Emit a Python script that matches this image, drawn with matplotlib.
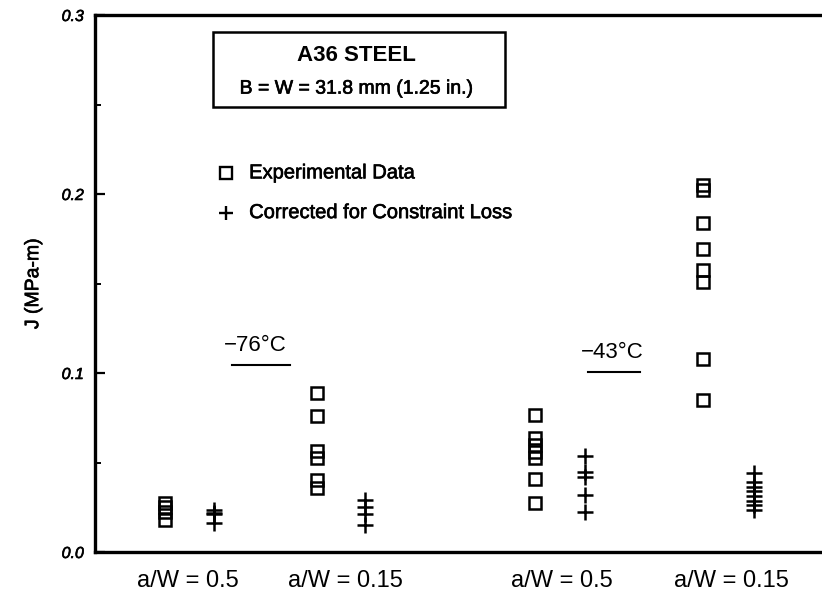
import matplotlib
matplotlib.use("Agg")
import matplotlib.pyplot as plt
import matplotlib.patheffects as pe
from matplotlib.patches import Rectangle
from matplotlib.lines import Line2D

plt.rcParams['font.family'] = ['Liberation Sans', 'DejaVu Sans']

# horizontal slots (arbitrary 0-100 scale)
sq_x = [9.6, 30.5, 60.5, 83.6]
plus_x = [16.4, 37.1, 67.4, 90.6]
label_x = [12.8, 34.4, 64.2, 87.6]
group_labels = ['a/W = 0.5', 'a/W = 0.15', 'a/W = 0.5', 'a/W = 0.15']

# J values, MPa-m
exp_data = [
    [0.0275, 0.025, 0.0225, 0.018],                          # -76C, a/W=0.5
    [0.089, 0.076, 0.0565, 0.0525, 0.040, 0.036],            # -76C, a/W=0.15
    [0.0765, 0.0635, 0.060, 0.056, 0.0525, 0.041, 0.0275],   # -43C, a/W=0.5
    [0.205, 0.202, 0.184, 0.169, 0.1575, 0.151, 0.108, 0.085],  # -43C, a/W=0.15
]
corrected = [
    [0.0235, 0.022, 0.021, 0.016],
    [0.029, 0.025, 0.021, 0.015],
    [0.0535, 0.0445, 0.042, 0.032, 0.0225],
    [0.044, 0.039, 0.0365, 0.034, 0.0315, 0.0285, 0.026, 0.0235],
]

# thicken the glyphs a little, like old typeset figures
ink = [pe.withStroke(linewidth=0.45, foreground='black')]

fig = plt.figure(figsize=(8.22, 5.96), dpi=100)
ax = fig.add_axes([95 / 822, 44 / 596, 727 / 822, 537 / 596])

for i in range(4):
    ax.plot([sq_x[i]] * len(exp_data[i]), exp_data[i], ls='none', marker='s',
            ms=9, mfc='none', mec='black', mew=1.8)
    ax.plot([plus_x[i]] * len(corrected[i]), corrected[i], ls='none', marker='+',
            ms=11, mec='black', mew=1.8)

ax.set_xlim(0, 100)
ax.set_ylim(0.0, 0.3)
ax.set_yticks([0.0, 0.1, 0.2, 0.3])
ax.set_yticklabels(['0.0', '0.1', '0.2', '0.3'], fontstyle='italic', fontsize=11.5,
                   path_effects=ink)
ax.set_yticks([0.05, 0.15, 0.25], minor=True)
ax.tick_params(axis='y', which='major', direction='in', length=7, width=1.6, pad=8)
ax.tick_params(axis='y', which='minor', direction='in', length=4, width=1.4)
ax.set_xticks([])
ax.spines['right'].set_visible(False)
for s in ['left', 'top', 'bottom']:
    ax.spines[s].set_linewidth(2.4)

ax.set_ylabel('J (MPa-m)', fontsize=14, labelpad=14, path_effects=ink)

for xl, txt in zip(label_x, group_labels):
    ax.text(xl, -0.010, txt, ha='center', va='top', fontsize=17,
            transform=ax.transData, clip_on=False)

# title box
ax.add_patch(Rectangle((0.162, 0.829), 0.402, 0.139, transform=ax.transAxes,
                       fill=False, ec='black', lw=1.8))
ax.text(0.360, 0.924, 'A36 STEEL', transform=ax.transAxes, ha='center', va='center',
        fontsize=16, fontweight='bold')
ax.text(0.360, 0.862, 'B = W = 31.8 mm (1.25 in.)', transform=ax.transAxes,
        ha='center', va='center', fontsize=14, path_effects=ink)

# key
ax.plot([0.180], [0.706], transform=ax.transAxes, marker='s', ms=8, mfc='none',
        mec='black', mew=1.7, ls='none', clip_on=False)
ax.text(0.212, 0.706, 'Experimental Data', transform=ax.transAxes, va='center',
        fontsize=14.5, path_effects=ink)
ax.plot([0.180], [0.632], transform=ax.transAxes, marker='+', ms=10, mec='black',
        mew=1.7, ls='none', clip_on=False)
ax.text(0.212, 0.632, 'Corrected for Constraint Loss', transform=ax.transAxes,
        va='center', fontsize=14.5, path_effects=ink)

# temperature headings with underline
ax.text(22.0, 0.1155, '\u221276\u00b0C', ha='center', va='center', fontsize=16)
ax.add_line(Line2D([18.9, 26.8], [0.1045, 0.1045], color='black', lw=1.5))
ax.text(71.2, 0.1115, '\u221243\u00b0C', ha='center', va='center', fontsize=16)
ax.add_line(Line2D([67.8, 74.9], [0.1005, 0.1005], color='black', lw=1.5))

fig.savefig('out.png', dpi=100)
